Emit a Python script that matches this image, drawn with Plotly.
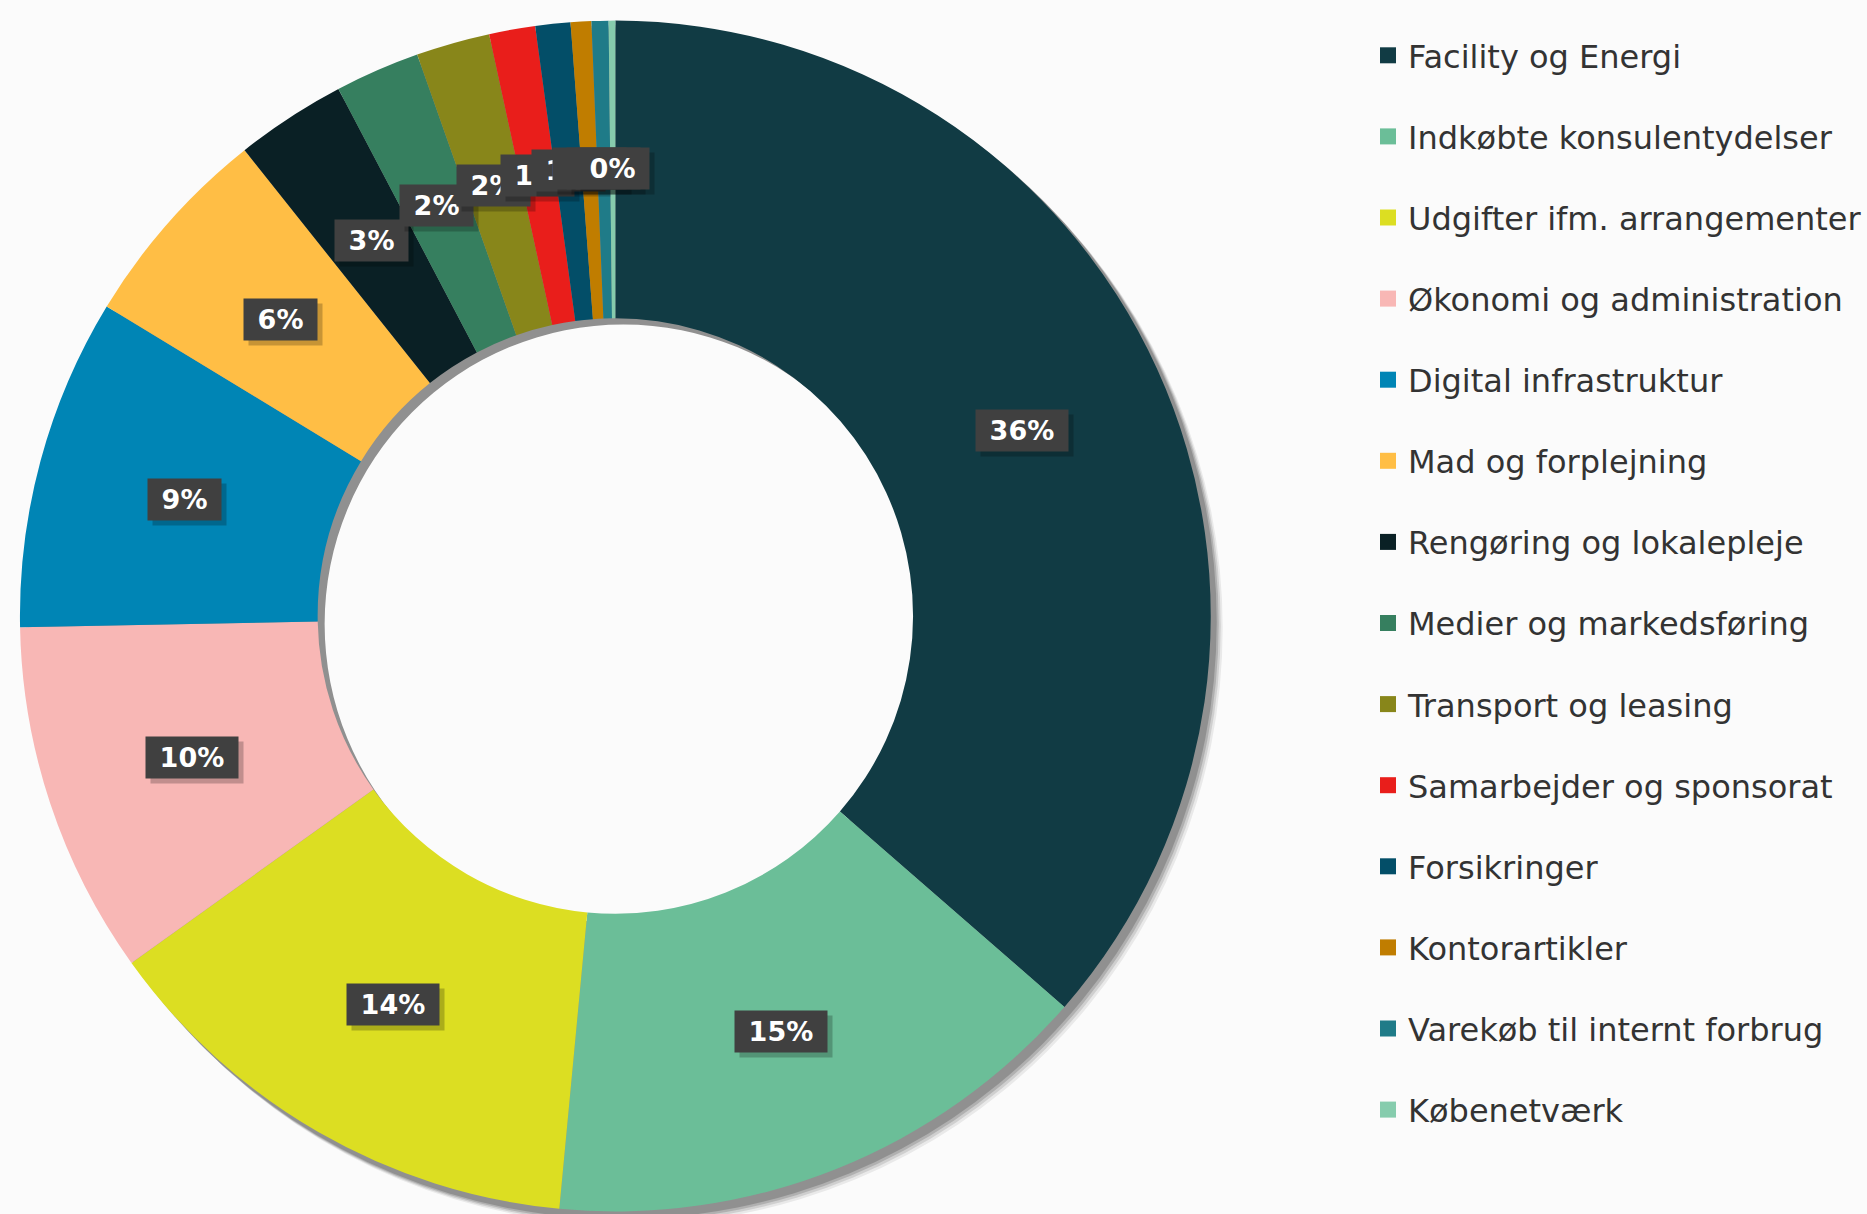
import math
import plotly.graph_objects as go

# ---- data ----
categories = [
    "Facility og Energi",
    "Indkøbte konsulentydelser",
    "Udgifter ifm. arrangementer",
    "Økonomi og administration",
    "Digital infrastruktur",
    "Mad og forplejning",
    "Rengøring og lokalepleje",
    "Medier og markedsføring",
    "Transport og leasing",
    "Samarbejder og sponsorat",
    "Forsikringer",
    "Kontorartikler",
    "Varekøb til internt forbrug",
    "Købenetværk",
]
shares = [36.4, 15.1, 13.6, 9.6, 9.0, 5.6, 3.0, 2.3, 2.0, 1.25, 0.95, 0.56, 0.46, 0.18]
colors = [
    "#113B44", "#6BBE98", "#DCDE22", "#F8B7B5", "#0085B5", "#FFBE45",
    "#0A2025", "#367F5F", "#88861A", "#E91E1B", "#034E68", "#C07D00",
    "#1F7B88", "#86CCAD",
]

# ---- geometry (pixels) ----
W, H = 1867, 1214
CX, CY, R = 617, 616, 597
HOLE = 0.5
BG = "#FBFBFB"


def dom(cx, cy, r):
    return dict(x=[(cx - r) / W, (cx + r) / W],
                y=[(H - cy - r) / H, (H - cy + r) / H])


def circ(cx, cy, r, color):
    return dict(type="circle", xref="paper", yref="paper", layer="below",
                x0=(cx - r) / W, x1=(cx + r) / W,
                y0=1 - (cy + r) / H, y1=1 - (cy - r) / H,
                fillcolor=color, line=dict(width=0))


total = sum(shares)
fig = go.Figure()

fig.add_trace(go.Pie(
    labels=categories, values=shares, hole=HOLE, sort=False,
    direction="clockwise", rotation=0,
    marker=dict(colors=colors, line=dict(width=0)),
    textinfo="none", showlegend=False,
    domain=dom(CX, CY, R),
))

# soft drop shadow (drawn below the donut)
shapes = []
for off, alpha in [(12, 0.07), (10, 0.11), (8, 0.15), (6, 0.18)]:
    shapes.append(circ(CX + off, CY + off, R, f"rgba(0,0,0,{alpha})"))
shapes.append(circ(CX + 8, CY + 8, R * HOLE + 1, BG))

# percentage labels in dark boxes at ring mid-radius, mid-angle
cum = 0.0
rl = R * (1 + HOLE) / 2
for cat, v in zip(categories, shares):
    mid = (cum + v / 2) / total * 2 * math.pi
    cum += v
    x = CX + rl * math.sin(mid)
    y = CY - rl * math.cos(mid)
    txt = f"{v / total:.0%}"
    fig.add_annotation(
        x=(x + 5) / W, y=1 - (y + 5) / H, xref="paper", yref="paper",
        xanchor="center", yanchor="middle",
        text="\u00a0<b>" + txt + "</b>\u00a0", showarrow=False,
        font=dict(family="DejaVu Sans", size=27, color="rgba(0,0,0,0)"),
        bgcolor="rgba(0,0,0,0.22)", borderpad=5,
    )
    fig.add_annotation(
        x=x / W, y=1 - y / H, xref="paper", yref="paper",
        xanchor="center", yanchor="middle",
        text="\u00a0<b>" + txt + "</b>\u00a0", showarrow=False,
        font=dict(family="DejaVu Sans", size=27, color="white"),
        bgcolor="#404040", borderpad=5,
    )

# legend via marker-only traces
for cat, c in zip(categories, colors):
    fig.add_trace(go.Scatter(
        x=[None], y=[None], mode="markers", name=cat, legendgroup=cat,
        marker=dict(symbol="square", size=17, color=c),
        hoverinfo="skip",
    ))

fig.update_layout(
    width=W, height=H,
    margin=dict(l=0, r=0, t=0, b=0),
    paper_bgcolor=BG, plot_bgcolor="rgba(0,0,0,0)",
    shapes=shapes,
    xaxis=dict(visible=False, domain=[0.99, 1]),
    yaxis=dict(visible=False, domain=[0.99, 1]),
    showlegend=True,
    legend=dict(
        x=1372 / W, y=1 - 28 / H, xanchor="left", yanchor="top",
        font=dict(family="DejaVu Sans", size=32, color="#333333"),
        tracegroupgap=36.5, bgcolor="rgba(0,0,0,0)",
    ),
)

fig.write_html(
    "out.html",
    config={"displayModeBar": False},
    post_script="document.body.style.margin='0';document.body.style.background='#FBFBFB';",
)
